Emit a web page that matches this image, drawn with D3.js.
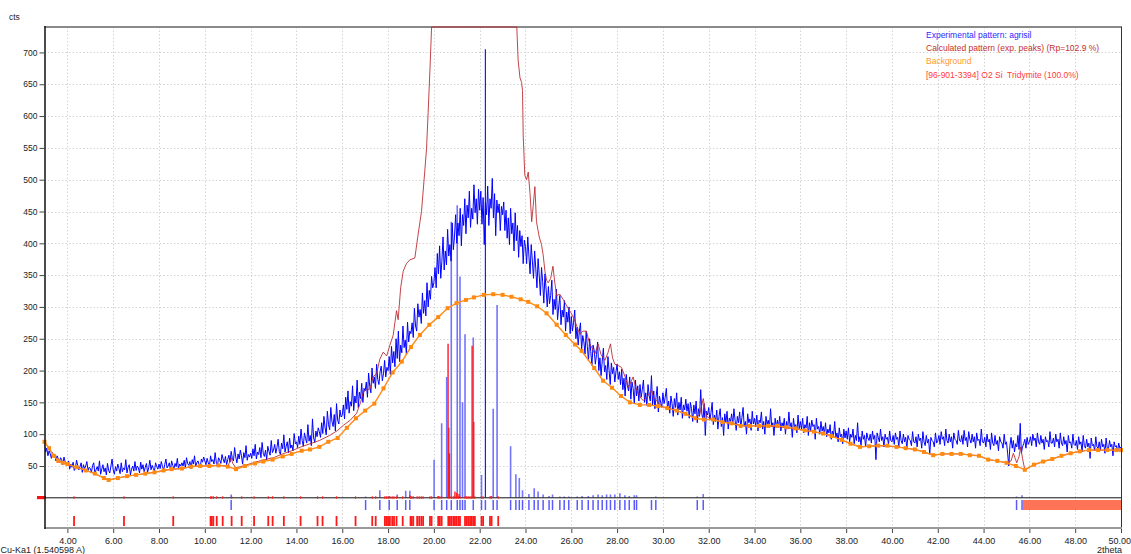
<!DOCTYPE html>
<html><head><meta charset="utf-8">
<script src="https://cdn.jsdelivr.net/npm/d3@7"></script>
<style>
html,body{margin:0;padding:0;background:#fff;}
svg{display:block;font-family:"Liberation Sans",Arial,sans-serif;}
</style></head><body>
<svg id="chart" width="1131" height="554"></svg>
<script>
// ---- axis ticks ----
const xTicks = [4, 6, 8, 10, 12, 14, 16, 18, 20, 22, 24, 26, 28, 30, 32, 34, 36, 38, 40, 42, 44, 46, 48, 50];
const yTicks = [50, 100, 150, 200, 250, 300, 350, 400, 450, 500, 550, 600, 650, 700];

// ---- experimental pattern: counts from 3.00 deg in 0.05 deg steps ----
const expStart = 3.0, expStep = 0.05;
const expCounts = [
  84,72,78,66,74,69,62,71,64,68,58,66,61,55,63,60,52,64,57,55,
  50,58,45,53,48,56,43,47,59,51,44,49,55,40,52,46,50,57,43,48,
  46,40,51,55,38,44,49,42,58,37,45,52,41,47,36,54,43,39,50,61,
  44,37,49,42,53,46,38,55,41,47,44,60,39,48,52,36,45,50,42,57,
  43,50,47,39,56,45,52,41,48,54,40,47,59,44,51,46,42,55,49,45,
  53,46,57,49,44,52,61,47,50,55,43,58,51,46,54,49,62,45,53,50,
  55,50,59,47,63,54,51,57,46,60,53,66,49,55,58,52,48,61,56,64,
  58,52,62,55,49,66,57,60,53,71,56,50,63,59,54,68,61,55,65,52,
  60,67,56,73,62,58,79,64,55,69,61,75,66,53,71,63,82,59,68,64,
  70,62,77,66,84,61,72,68,79,63,87,70,65,75,60,81,73,67,90,71,
  75,84,70,79,92,73,68,86,77,99,72,81,88,71,94,78,83,74,101,85,
  88,79,97,84,108,90,81,102,93,86,115,89,98,82,124,94,87,105,96,110,
  104,95,118,101,128,110,99,136,115,107,142,120,112,131,105,148,122,116,138,127,
  130,146,124,158,139,168,133,151,144,176,137,160,149,185,142,166,156,180,150,172,
  168,182,158,196,175,165,204,180,190,172,210,186,178,198,207,184,195,216,190,205,
  200,222,194,238,212,230,206,250,219,262,214,240,228,270,236,248,226,276,245,262,
  258,275,252,298,270,262,305,284,296,274,322,290,310,286,338,300,326,312,348,330,
  338,362,330,384,352,396,345,372,410,358,388,366,422,380,398,372,432,390,410,445,
  400,432,412,455,396,445,428,470,415,460,440,482,425,455,438,492,448,470,430,485,
  452,482,430,472,398,465,445,490,428,470,455,502,440,478,412,468,448,462,420,458,
  445,465,420,452,408,440,398,455,415,432,388,448,404,428,378,420,395,412,368,405,
  395,368,410,380,352,398,372,345,388,360,330,376,350,318,362,340,306,352,328,300,
  332,305,318,342,288,312,296,328,280,300,318,272,295,284,310,262,292,276,300,258,
  285,262,276,295,250,268,240,262,275,232,255,245,226,262,238,215,250,230,208,240,
  232,210,225,245,200,220,192,215,235,198,208,186,222,200,178,212,195,205,182,198,
  210,186,198,178,202,170,188,160,194,176,168,190,155,182,172,148,185,160,176,152,
  178,158,170,185,150,165,145,178,160,152,192,146,168,140,158,175,135,160,150,142,
  165,148,158,172,140,152,133,160,148,128,156,142,165,130,150,138,158,125,146,138,
  155,136,148,125,150,140,120,146,132,152,118,140,128,170,132,122,148,98,136,130,
  142,122,134,150,115,130,120,138,108,128,140,112,126,98,132,118,136,108,125,120,
  132,115,140,122,106,128,118,135,110,126,142,112,120,100,132,118,124,106,136,116,
  125,112,130,105,122,118,135,108,120,100,128,115,122,110,140,112,118,98,125,110,
  122,110,128,105,118,112,125,100,120,108,135,112,118,95,125,110,115,102,130,108,
  120,108,125,102,115,110,128,98,118,105,122,112,115,92,125,108,112,100,120,105,
  112,100,118,96,108,102,115,92,105,98,120,95,102,88,110,96,100,85,108,94,
  105,92,110,88,100,95,108,85,98,90,118,88,96,82,105,92,98,80,102,94,
  90,100,86,105,92,98,60,102,95,88,108,90,96,80,100,92,95,84,105,90,
  88,98,84,102,92,95,80,105,90,85,100,88,95,78,98,92,90,82,104,88,
  86,96,80,100,90,94,78,104,88,82,98,86,92,68,95,90,88,80,102,86,
  90,98,84,104,92,96,82,108,90,86,100,88,96,78,102,92,90,84,106,90,
  88,98,84,106,90,95,80,104,92,86,100,88,96,78,102,90,92,82,108,88,
  86,95,80,100,88,92,76,102,86,82,98,84,90,74,96,88,86,78,100,84,
  88,70,50,82,95,78,90,72,85,80,98,76,117,70,80,85,92,78,95,84,
  88,96,82,100,90,94,80,102,88,84,98,86,92,76,96,88,90,80,104,86,
  86,94,80,100,88,92,78,102,86,82,96,84,90,72,98,86,88,78,100,84,
  82,90,76,96,84,88,72,98,82,78,92,80,86,62,94,82,84,74,96,80,
  78,88,74,92,80,84,70,94,78,76,90,80,84,66,88,80,82,72,86,78,
  80
];

// ---- calculated pattern (2theta, cts) ----
const calcPattern = [
  [3.0,88],[3.2,78],[3.4,66],[3.6,58],[3.8,55],[4.0,53],[4.4,48],[4.8,43],[5.2,38],[5.6,31],[5.8,28],
  [6.2,31],[6.6,34],[7.0,36],[7.4,38],[7.8,40],[8.2,43],[8.6,45],[9.0,46],[9.4,49],[9.8,50],[10.2,50],
  [10.6,51],[11.0,50],[11.08,56],[11.15,63],[11.22,54],[11.36,47],[11.75,51],[12.2,56],[12.6,60],[13.0,63],
  [13.4,69],[13.8,74],[14.2,80],[14.6,85],[15.0,90],[15.45,98],[15.8,106],[16.05,114],[16.35,122],[16.63,133],
  [16.8,150],[16.92,166],[17.05,170],[17.21,171],[17.34,190],[17.5,195],[17.64,218],[17.79,229],[17.94,223],
  [18.08,240],[18.22,255],[18.37,294],[18.44,280],[18.55,330],[18.66,356],[18.8,368],[18.95,374],[19.17,377],
  [19.3,411],[19.46,450],[19.6,512],[19.68,549],[19.75,606],[19.83,674],[19.9,740],[21.5,900],[23.62,740],
  [23.68,687],[23.76,660],[23.83,653],[23.87,640],[23.9,570],[23.97,507],[24.05,500],[24.12,512],[24.2,478],
  [24.27,434],[24.34,460],[24.41,489],[24.48,434],[24.6,410],[24.7,398],[24.77,382],[24.85,356],[24.92,342],
  [24.99,338],[25.1,345],[25.2,364],[25.28,338],[25.36,318],[25.5,320],[25.64,312],[25.86,298],[26.0,290],
  [26.16,278],[26.37,257],[26.5,262],[26.66,262],[26.8,242],[26.9,236],[27.03,226],[27.17,242],[27.3,225],
  [27.47,216],[27.6,228],[27.71,242],[27.8,220],[27.9,210],[28.05,208],[28.19,205],[28.35,190],[28.48,174],
  [28.6,182],[28.7,190],[28.8,175],[28.92,164],[29.05,156],[29.14,153],[29.3,158],[29.5,169],[29.6,158],
  [29.72,153],[29.85,147],[30.01,143],[30.3,140],[30.6,137],[31.0,132],[31.4,126],[31.6,130],[31.76,156],
  [31.9,128],[32.2,123],[32.6,119],[33.0,117],[33.4,114],[34.0,113],[35.0,112],[36.0,107],[37.0,101],
  [37.4,97],[37.8,91],[38.2,85],[38.6,80],[39.4,82],[40.2,80],[41.0,76],[41.4,72],[41.8,67],[42.2,69],
  [43.0,69],[43.8,66],[44.2,60],[44.6,58],[45.0,55],[45.2,58],[45.3,70],[45.38,62],[45.45,55],[45.55,65],
  [45.62,80],[45.7,62],[45.8,44],[46.2,52],[46.6,57],[47.0,61],[47.4,66],[47.8,70],[48.2,73],[48.6,75],[50.0,75]
];

// ---- background (2theta, cts) ----
const backgroundPts = [
  [3.0,88],[3.2,78],[3.4,66],[3.6,58],[3.8,55],[4.0,53],[4.4,48],[4.8,43],[5.2,38],[5.6,31],[5.8,28],
  [6.2,31],[6.6,34],[7.0,36],[7.4,38],[7.8,40],[8.2,43],[8.55,45],[9.0,46],[9.4,49],[9.8,50],[10.2,50],
  [10.6,51],[11.0,49],[11.36,45],[11.75,50],[12.19,54],[12.55,57],[12.96,60],[13.4,65],[13.79,69],[14.23,74],
  [14.59,76],[15.0,80],[15.39,88],[15.8,94],[16.2,110],[16.6,125],[17.0,137],[17.4,148],[17.8,172],[18.2,197],
  [18.6,214],[19.0,237],[19.39,256],[19.8,272],[20.19,284],[20.6,298],[20.99,306],[21.4,311],[21.75,315],
  [22.18,319],[22.59,320],[23.0,319],[23.39,316],[23.79,312],[24.12,308],[24.51,301],[24.92,290],[25.36,272],
  [25.76,256],[26.16,241],[26.45,231],[27.0,204],[27.39,184],[27.78,173],[28.17,160],[28.56,150],[28.99,146],
  [29.4,146],[29.79,144],[30.19,141],[30.6,137],[30.99,132],[31.4,125],[31.79,123],[32.19,123],[32.6,119],
  [32.99,117],[33.39,113],[33.8,113],[34.19,113],[34.6,113],[34.99,113],[35.39,111],[35.79,109],[36.19,106],
  [36.59,104],[36.99,101],[37.36,97],[37.8,91],[38.19,85],[38.6,80],[39.0,81],[39.4,82],[39.8,82],[40.2,80],
  [40.6,78],[41.0,76],[41.4,72],[41.8,67],[42.2,69],[42.6,69],[43.0,69],[43.4,67],[43.8,66],[44.2,60],
  [44.6,58],[45.0,55],[45.41,50],[45.8,44],[46.2,52],[46.6,57],[47.0,61],[47.4,66],[47.8,70],[48.2,73],
  [48.6,75],[49.0,75],[49.4,75],[49.8,75],[50.0,75]
];

// ---- observed peak positions and stick intensities ----
const obsPeakPos = [11.15,17.02,17.64,18.05,18.40,18.77,18.95,20.01,20.34,20.56,20.76,21.02,21.14,21.25,21.36,
  21.72,22.08,22.25,22.59,22.76,23.35,23.58,23.73,23.87,24.15,24.38,24.55,24.77,25.03,25.18,25.50,25.69,25.89,
  26.26,26.47,26.74,26.95,27.17,27.35,27.54,27.71,27.90,28.12,28.34,28.53,28.75,28.85,29.50,29.69,31.50,31.76,
  45.44,45.68];
const obsPeakCts = [5,2,12,3,5,11,11,60,117,190,434,460,348,150,257,252,36,705,140,303,81,37,31,12,6,15,10,5,3,5,
  2,2,2,2,3,3,4,5,4,5,5,5,7,4,3,4,4,1,2,2,6,2,4];

// ---- Tridymite reference lines (96-901-3394) ----
const refPeakPos = [4.29,6.47,8.62,10.25,10.30,10.37,10.52,10.78,11.17,11.61,12.15,12.77,12.96,13.45,14.18,14.92,
  15.14,15.75,16.58,17.31,17.46,17.86,17.93,18.00,18.08,18.18,18.26,18.37,18.64,18.98,19.03,19.10,19.27,19.36,
  19.45,19.53,19.83,19.90,20.19,20.26,20.34,20.63,20.70,20.77,20.85,20.92,20.99,21.07,21.14,21.36,21.43,21.50,
  21.58,21.65,21.72,21.79,22.08,22.15,22.45,22.52,22.81];
const refStickPos = [18.95,20.19,20.62,20.65,20.68,20.92,21.00,21.10,21.67,21.74,22.50];
const refStickCts = [4,3,242,110,70,10,8,6,239,119,3];

// ---- excluded range ----
const excludedRange = [45.72, 50.0];

const legendLabels = ["Experimental pattern: agrisil", "Calculated pattern (exp. peaks) (Rp=102.9 %)",
  "Background", "[96-901-3394] O2 Si  Tridymite (100.0%)"];
const legendColors = ["#2a2aff", "#c4302b", "#ff9a1f", "#ff3a3a"];

// ---- layout ----
const plotLeft = 44.5, plotRight = 1121, plotTop = 27, axisY = 528;
const svg = d3.select("#chart");

const x = d3.scaleLinear().domain([3, 50]).range([plotLeft, plotRight]);
const y = d3.scaleLinear().domain([0, 740]).range([497.8, plotTop]);
const yc = y.copy().clamp(true);
const zeroY = y(0);

// clip
svg.append("defs").append("clipPath").attr("id", "plot")
  .append("rect").attr("x", plotLeft).attr("y", plotTop).attr("width", plotRight - plotLeft).attr("height", zeroY - plotTop);

// grid
const grid = svg.append("g").attr("stroke", "#d4d4d4").attr("stroke-width", 1).attr("stroke-dasharray", "1.5,2");
grid.selectAll("line.v").data(xTicks.filter(d => d < 50)).join("line")
  .attr("x1", d => Math.round(x(d)) + 0.5).attr("x2", d => Math.round(x(d)) + 0.5)
  .attr("y1", plotTop).attr("y2", axisY);
grid.selectAll("line.h").data(yTicks).join("line")
  .attr("x1", plotLeft).attr("x2", plotRight)
  .attr("y1", d => Math.round(y(d)) + 0.5).attr("y2", d => Math.round(y(d)) + 0.5);

// top frame (the calculated curve runs over it where clipped)
svg.append("line").attr("x1", plotLeft).attr("x2", plotRight + 1).attr("y1", plotTop).attr("y2", plotTop)
  .attr("stroke", "#8a8a8a").attr("stroke-width", 2);

const plot = svg.append("g").attr("clip-path", "url(#plot)");

// observed sticks
const strongest = d3.max(obsPeakCts);
plot.selectAll("line.obs").data(obsPeakPos).join("line")
  .attr("x1", d => x(d)).attr("x2", d => x(d))
  .attr("y1", zeroY).attr("y2", (d, i) => y(obsPeakCts[i]))
  .attr("stroke", (d, i) => obsPeakCts[i] === strongest ? "#1a1aff" : "#7474ff")
  .attr("stroke-width", (d, i) => obsPeakCts[i] === strongest ? 1.2 : 1.6);

// experimental pattern
const expPts = expCounts.map((v, i) => [expStart + i * expStep, v]);
plot.append("path").datum(expPts)
  .attr("fill", "none").attr("stroke", "#0000ff").attr("stroke-width", 1)
  .attr("d", d3.line().x(d => x(d[0])).y(d => y(d[1])));

// calculated pattern (runs along the frame where it exceeds the scale)
svg.append("path").datum(calcPattern)
  .attr("fill", "none").attr("stroke", "#b8232a").attr("stroke-width", 1).attr("stroke-opacity", 0.85)
  .attr("d", d3.line().x(d => x(d[0])).y(d => yc(d[1])));

// reference sticks
plot.selectAll("line.ref").data(refStickPos).join("line")
  .attr("x1", d => x(d)).attr("x2", d => x(d))
  .attr("y1", zeroY).attr("y2", (d, i) => y(refStickCts[i]))
  .attr("stroke", "#ff1a1a").attr("stroke-width", 1.4);

// background
svg.append("path").datum(backgroundPts)
  .attr("fill", "none").attr("stroke", "#ff8c1a").attr("stroke-width", 1.4)
  .attr("d", d3.line().x(d => x(d[0])).y(d => y(d[1])));
svg.selectAll("rect.bg").data(backgroundPts).join("rect")
  .attr("x", d => x(d[0]) - 2).attr("y", d => y(d[1]) - 2)
  .attr("width", 4).attr("height", 4).attr("fill", "#ff8a10");

// zero line and peak-position rows
svg.append("line").attr("x1", plotLeft).attr("x2", plotRight).attr("y1", zeroY).attr("y2", zeroY)
  .attr("stroke", "#111").attr("stroke-width", 1);
svg.append("rect").attr("x", 37).attr("y", zeroY - 1.8).attr("width", 9).attr("height", 3.2).attr("fill", "#ff1010");
svg.selectAll("line.refzero").data(refPeakPos).join("line")
  .attr("x1", d => x(d)).attr("x2", d => x(d)).attr("y1", zeroY - 1.5).attr("y2", zeroY + 1)
  .attr("stroke", "#ff2020").attr("stroke-width", 1.2);
svg.selectAll("line.obsrow").data(obsPeakPos).join("line")
  .attr("x1", d => x(d)).attr("x2", d => x(d)).attr("y1", 500).attr("y2", 510)
  .attr("stroke", "#5a5aff").attr("stroke-width", 1.5);
svg.selectAll("line.refrow").data(refPeakPos).join("line")
  .attr("x1", d => x(d)).attr("x2", d => x(d)).attr("y1", 516).attr("y2", 526)
  .attr("stroke", "#ff1a1a").attr("stroke-width", 1.8);
svg.append("rect").attr("x", x(excludedRange[0])).attr("y", 500)
  .attr("width", x(excludedRange[1]) - x(excludedRange[0])).attr("height", 10).attr("fill", "#ff7356");

// remaining frame
svg.append("line").attr("x1", plotRight + 0.5).attr("x2", plotRight + 0.5).attr("y1", plotTop).attr("y2", axisY)
  .attr("stroke", "#333").attr("stroke-width", 1);
svg.append("line").attr("x1", plotLeft).attr("x2", plotRight + 1).attr("y1", axisY).attr("y2", axisY)
  .attr("stroke", "#9a9a9a").attr("stroke-width", 2);
svg.append("line").attr("x1", plotLeft + 0.5).attr("x2", plotLeft + 0.5).attr("y1", plotTop - 1).attr("y2", axisY + 1)
  .attr("stroke", "#111").attr("stroke-width", 1.5);

// axes
const yAxis = svg.append("g").attr("transform", `translate(${plotLeft},0)`)
  .call(d3.axisLeft(y).tickValues(yTicks).tickSize(5).tickPadding(2).tickFormat(d3.format("d")));
const xAxis = svg.append("g").attr("transform", `translate(0,${axisY + 1})`)
  .call(d3.axisBottom(x).tickValues(xTicks).tickSize(4).tickPadding(5).tickFormat(d3.format(".2f")));
[yAxis, xAxis].forEach(g => {
  g.select(".domain").remove();
  g.selectAll(".tick line").attr("stroke", "#444");
  g.selectAll(".tick text").attr("fill", "#222").style("font-family", '"Liberation Sans",Arial,sans-serif');
});
yAxis.selectAll(".tick text").style("font-size", "8.5px");
xAxis.selectAll(".tick text").style("font-size", "9px");
// keep the last label inside the page edge
xAxis.selectAll(".tick text").filter(d => d === 50).attr("text-anchor", "end").attr("x", 9.5);

// axis captions
svg.append("text").attr("x", 9).attr("y", 20).attr("font-size", 8.5).attr("fill", "#222").text("cts");
svg.append("text").attr("x", 1122).attr("y", 552.5).attr("text-anchor", "end").attr("font-size", 9).attr("fill", "#222").text("2theta");
svg.append("text").attr("x", 0.5).attr("y", 552.5).attr("font-size", 9).attr("fill", "#222").text("Cu-Ka1 (1.540598 A)");

// legend
svg.selectAll("text.legend").data(legendLabels).join("text")
  .attr("x", 926).attr("y", (d, i) => 38 + i * 13.2)
  .attr("font-size", 8.5).attr("fill", (d, i) => legendColors[i])
  .style("white-space", "pre").text(d => d);
</script>
</body></html>
